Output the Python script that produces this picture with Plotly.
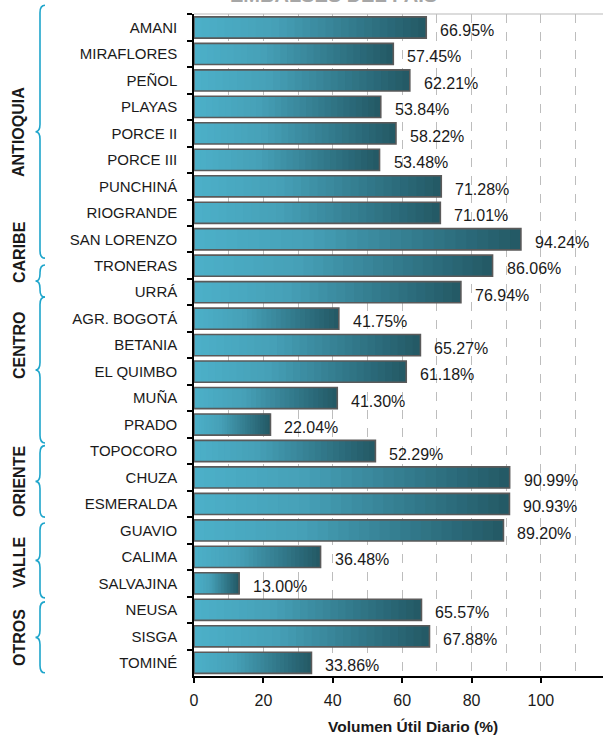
import plotly.graph_objects as go

# ---------------- data ----------------
reservoirs = ["AMANI", "MIRAFLORES", "PEÑOL", "PLAYAS", "PORCE II", "PORCE III",
              "PUNCHINÁ", "RIOGRANDE", "SAN LORENZO", "TRONERAS", "URRÁ",
              "AGR. BOGOTÁ", "BETANIA", "EL QUIMBO", "MUÑA", "PRADO", "TOPOCORO",
              "CHUZA", "ESMERALDA", "GUAVIO", "CALIMA", "SALVAJINA",
              "NEUSA", "SISGA", "TOMINÉ"]
volume_pct = [66.95, 57.45, 62.21, 53.84, 58.22, 53.48,
              71.28, 71.01, 94.24, 86.06, 76.94,
              41.75, 65.27, 61.18, 41.30, 22.04, 52.29,
              90.99, 90.93, 89.20, 36.48, 13.00,
              65.57, 67.88, 33.86]
x_tick_values = [0, 20, 40, 60, 80, 100]
region_names = ["ANTIOQUIA", "CARIBE", "CENTRO", "ORIENTE", "VALLE", "OTROS"]
x_title = "Volumen Útil Diario (%)"
chart_title = "EMBALSES DEL PAÍS"

# ---------------- styling / layout helpers ----------------
W, H = 603, 735
ML, MR, MT, MB = 194, 0, 14, 59
PW, PH = W - ML - MR, H - MT - MB
N = len(reservoirs)
XMAX = 117.9

FONT = "Liberation Sans, Arial, Helvetica, sans-serif"


def px_to_paper_x(px):
    return (px - ML) / PW


def cat_to_paper_y(c):
    # c: category position (0 = top category), continuous
    return 1 - (c + 0.5) / N


def px_to_paper_y(py):
    return (H - MB - py) / PH


stops = [(0.0, (76, 176, 201)), (0.35, (70, 160, 183)),
         (0.7, (50, 121, 139)), (1.0, (35, 88, 100))]


def grad(t):
    for (t0, c0), (t1, c1) in zip(stops[:-1], stops[1:]):
        if t <= t1:
            f = (t - t0) / (t1 - t0)
            return "rgb(%d,%d,%d)" % tuple(round(a + (b - a) * f) for a, b in zip(c0, c1))
    return "rgb(%d,%d,%d)" % stops[-1][1]


fig = go.Figure()

SEG = 30
BAR_W = 0.8
for i in range(SEG):
    t0 = i / SEG
    fig.add_trace(go.Bar(
        y=reservoirs,
        x=[v * (1 - t0) for v in volume_pct],
        base=[v * t0 for v in volume_pct],
        orientation="h", width=BAR_W,
        marker=dict(color=grad((i + 0.5) / SEG), line=dict(width=0)),
        showlegend=False, hoverinfo="skip",
    ))

# outline bars
fig.add_trace(go.Bar(
    y=reservoirs, x=volume_pct, orientation="h", width=BAR_W,
    marker=dict(color="rgba(0,0,0,0)", line=dict(color="#5a5a5a", width=1.6)),
    showlegend=False,
    hovertemplate="%{y}: %{x:.2f}%<extra></extra>",
))

annotations = []
for name, v in zip(reservoirs, volume_pct):
    annotations.append(dict(
        x=v, y=name, xref="x", yref="y", text=f"{v:.2f}%", showarrow=False,
        xanchor="left", yanchor="middle", xshift=12, yshift=-3,
        font=dict(family=FONT, size=16, color="#1a1a1a"),
    ))

# region braces (positions in category units)
brace_spans = [(-0.83, 8.72), (8.98, 10.19), (10.19, 15.7),
               (15.8, 18.5), (18.72, 21.55), (21.7, 24.38)]
label_centers_px = [132, 252, 345, 482, 562, 638]

shapes = []
xv, xt, xe = px_to_paper_x(40), px_to_paper_x(35.5), px_to_paper_x(45)
r = 0.28
for (c0, c1), name, lc in zip(brace_spans, region_names, label_centers_px):
    cm = (c0 + c1) / 2
    y0, y1, ym = cat_to_paper_y(c0), cat_to_paper_y(c1), cat_to_paper_y(cm)
    ya, yb = cat_to_paper_y(c0 + r), cat_to_paper_y(cm - r)
    yc, yd = cat_to_paper_y(cm + r), cat_to_paper_y(c1 - r)
    path = (f"M {xe},{y0} Q {xv},{y0} {xv},{ya} L {xv},{yb} "
            f"Q {xv},{ym} {xt},{ym} Q {xv},{ym} {xv},{yc} "
            f"L {xv},{yd} Q {xv},{y1} {xe},{y1}")
    shapes.append(dict(type="path", path=path, xref="paper", yref="paper",
                       line=dict(color="#1ea5cb", width=1.6)))
    annotations.append(dict(
        x=px_to_paper_x(19), y=px_to_paper_y(lc), xref="paper", yref="paper",
        text=f"<b>{name}</b>", textangle=-90, showarrow=False,
        xanchor="center", yanchor="middle",
        font=dict(family=FONT, size=16, color="#1a1a1a"),
    ))

# top border of plot area
shapes.append(dict(type="line", xref="paper", yref="paper", x0=0, x1=1, y0=1, y1=1,
                   line=dict(color="#d0d0d0", width=1.5), layer="below"))

# x-axis title
annotations.append(dict(
    x=px_to_paper_x(413), y=px_to_paper_y(726), xref="paper", yref="paper",
    text=f"<b>{x_title}</b>", showarrow=False, xanchor="center", yanchor="middle",
    font=dict(family=FONT, size=15.5, color="#1a1a1a"),
))

# clipped title at the very top
annotations.append(dict(
    x=px_to_paper_x(333), y=px_to_paper_y(8), xref="paper", yref="paper",
    text=f"<b>{chart_title}</b>", showarrow=False, xanchor="center", yanchor="bottom",
    font=dict(family=FONT, size=20, color="#a6a6a6"),
))

fig.update_layout(
    width=W, height=H,
    margin=dict(l=ML, r=MR, t=MT, b=MB, autoexpand=False),
    paper_bgcolor="white", plot_bgcolor="white",
    barmode="overlay", bargap=0.2,
    showlegend=False,
    shapes=shapes, annotations=annotations,
    xaxis=dict(
        range=[0, XMAX], tickvals=x_tick_values, ticktext=[str(v) for v in x_tick_values],
        showgrid=True, gridcolor="#bdbdbd", griddash="dash", gridwidth=1,
        minor=dict(dtick=10, tick0=0, showgrid=True, gridcolor="#bdbdbd",
                   griddash="dash", gridwidth=1, ticks=""),
        zeroline=False, showline=True, linecolor="black", linewidth=1.5,
        ticks="outside", ticklen=5, tickcolor="black", tickwidth=1.5,
        ticklabelstandoff=4,
        tickfont=dict(family=FONT, size=16, color="#1a1a1a"),
        layer="below traces",
    ),
    yaxis=dict(
        type="category", categoryorder="array", categoryarray=reservoirs,
        autorange="reversed",
        showgrid=False, zeroline=False, showline=True, linecolor="black", linewidth=1.5,
        ticks="outside", ticklen=5, tickcolor="black", tickwidth=1.5,
        tickson="boundaries", ticklabelstandoff=12,
        tickfont=dict(family=FONT, size=15, color="#1a1a1a"),
    ),
)

fig.write_html("out.html", config={"displayModeBar": False},
               post_script="document.body.style.margin='0px';")
